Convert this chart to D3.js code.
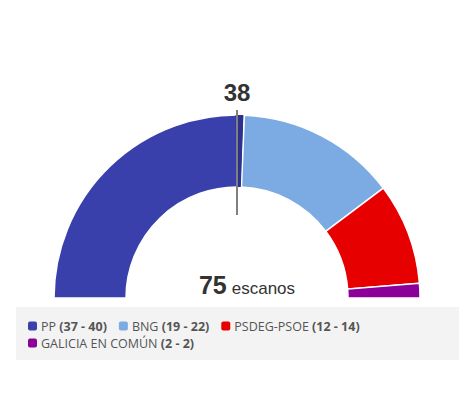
<!DOCTYPE html>
<html><head><meta charset="utf-8">
<script src="https://cdn.jsdelivr.net/npm/d3@7"></script>
<style>
body{margin:0;background:#fff;}
svg{display:block;}
</style></head>
<body>
<svg id="c" width="476" height="415"></svg>
<script>
const parties = ["PP","BNG","PSDEG-PSOE","GALICIA EN COMÚN"];
const seatsMin = [37,19,12,2];
const seatsMax = [40,22,14,2];
const colors = ["#3a40ab","#7babe2","#e60000","#8a0099"];
const totalSeats = 75;
const majority = 38;

const svg = d3.select("#c");
const cx = 237, cy = 298, rOuter = 183, rInner = 111;
const g = svg.append("g").attr("transform", `translate(${cx},${cy})`);

const pie = d3.pie().sort(null).value(d => d.v)
  .startAngle(-Math.PI/2).endAngle(Math.PI/2);
const data = parties.map((p,i)=>({p, v: seatsMax[i], c: colors[i]}));
const arcs = pie(data);
const arc = d3.arc().innerRadius(rInner).outerRadius(rOuter);

g.selectAll("path.s").data(arcs).join("path")
  .attr("class","s")
  .attr("d", arc)
  .attr("fill", d => d.data.c)
  .attr("stroke","#fff").attr("stroke-width",1.5);

// darker portion of first party beyond majority line
const pp = arcs[0];
g.append("path")
  .attr("d", arc({startAngle: -0.008, endAngle: pp.endAngle - 0.006}))
  .attr("fill","#2c3190");

// majority line
g.append("line").attr("x1",0).attr("x2",0)
  .attr("y1",-rOuter-5).attr("y2",-rInner+28)
  .attr("stroke","#808080").attr("stroke-width",2);

g.append("text").attr("x",0).attr("y",-rOuter-14)
  .attr("text-anchor","middle")
  .attr("font-family","Liberation Sans, Arial, sans-serif")
  .attr("font-weight","bold").attr("font-size",24).attr("fill","#333")
  .text(majority);

const tt = g.append("text").attr("x",10).attr("y",-4)
  .attr("text-anchor","middle")
  .attr("font-family","Liberation Sans, Arial, sans-serif").attr("fill","#333");
tt.append("tspan").attr("font-weight","bold").attr("font-size",25).text(totalSeats);
tt.append("tspan").attr("font-size",17).attr("dx",5).text("escanos");

// legend
svg.append("rect").attr("x",16).attr("y",307).attr("width",443).attr("height",53).attr("fill","#f3f3f3");
const rows = [[0,1,2],[3]];
const lg = svg.append("g").attr("font-family","Open Sans, sans-serif").attr("font-size",12.5);
rows.forEach((row,ri)=>{
  let x = 28;
  const y = 331 + ri*17;
  row.forEach(i=>{
    lg.append("rect").attr("x",x).attr("y",y-9.5).attr("width",9).attr("height",9).attr("rx",2)
      .attr("fill",colors[i]);
    const t = lg.append("text").attr("x",x+13).attr("y",y).attr("fill","#555");
    t.append("tspan").text(parties[i]+" ");
    t.append("tspan").attr("font-weight","bold").text(`(${seatsMin[i]} - ${seatsMax[i]})`);
    x += t.node().getComputedTextLength() + 13 + 12;
  });
});
</script>
</body></html>
